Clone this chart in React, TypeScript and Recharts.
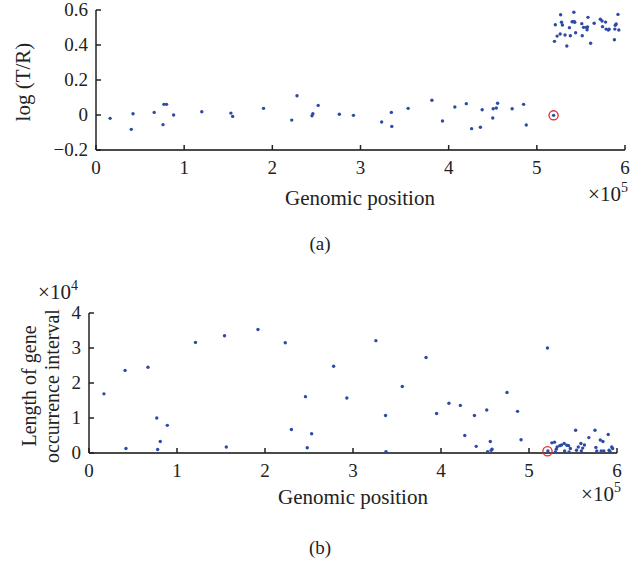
import { ScatterChart, Scatter, XAxis, YAxis } from "recharts";

const FONT = '"Liberation Serif", "Times New Roman", serif';
const DOT = "#2c4aa6";
const RING = "#e8242b";
const INK = "#222";

// shared x ticks (genomic position, shown in units of 1e5)
const xTicks = [0, 100000, 200000, 300000, 400000, 500000, 600000];
const ratioTicks = [-0.2, 0, 0.2, 0.4, 0.6];
const intervalTicks = [0, 10000, 20000, 30000, 40000];

// (a) log(T/R) per gene
const topPositions = [
  16000, 40000, 42000, 66000, 76000, 77000, 80000, 88000, 120000, 153000,
  155000, 190000, 222000, 228000, 245000, 246000, 252000, 276000, 292000, 324000,
  335000, 335500, 354000, 381000, 393000, 407000, 420000, 426000, 436000, 438000,
  450000, 450500, 454000, 455500, 472000, 485000, 488000, 519000,
  527000, 542000, 521000, 528000, 529000, 540000, 542500, 537000, 551000, 553000,
  556000, 557000, 558000, 565000, 572000, 574000, 574500, 578000, 578500, 581000,
  582000, 589000, 590000, 588500, 592000, 593000, 588000, 526500, 523000, 520000,
  532000, 538000, 544000, 551500, 534000, 561000, 543000, 557500,
];
const topLogRatio = [
  -0.019, -0.082, 0.007, 0.015, -0.055, 0.061, 0.061, 0.0, 0.019, 0.011,
  -0.008, 0.038, -0.029, 0.11, -0.004, 0.007, 0.055, 0.004, -0.002, -0.04,
  0.015, -0.065, 0.038, 0.084, -0.034, 0.046, 0.065, -0.078, -0.07, 0.03,
  -0.017, 0.036, 0.04, 0.067, 0.036, 0.061, -0.057, -0.002,
  0.573, 0.587, 0.516, 0.53, 0.514, 0.533, 0.533, 0.499, 0.522, 0.501,
  0.501, 0.487, 0.558, 0.524, 0.547, 0.537, 0.505, 0.531, 0.491, 0.486,
  0.49, 0.513, 0.52, 0.491, 0.575, 0.486, 0.43, 0.463, 0.451, 0.421,
  0.457, 0.453, 0.47, 0.453, 0.394, 0.41, 0.53, 0.503,
];
const topMarked = [{ pos: 519000, value: -0.002 }];

// (b) length of gene occurrence interval
const bottomPositions = [
  17000, 41000, 42000, 67000, 77000, 81000, 78000, 89000, 121000, 154000,
  156000, 192000, 223000, 230000, 246000, 248000, 253000, 278000, 293000,
  326000, 337000, 337500, 356000, 383000, 395000, 409000, 422000, 427000, 438000,
  440000, 452000, 456000, 453000, 457000, 458000, 475000, 487000, 491000, 521000,
  521500, 526000, 529000, 531000, 532000, 535000, 537000, 540000, 543000, 545000,
  547000, 540500, 545500, 530000, 553000, 554000, 556000, 559000, 559500, 561000,
  563000, 568000, 575000, 576000, 577000, 581000, 584000, 582000, 585000, 590000,
  591000, 594000, 595000, 592000,
];
const bottomIntervals = [
  16900, 23600, 1300, 24500, 10000, 3300, 1000, 7900, 31600, 33500,
  1700, 35300, 31500, 6700, 16100, 1500, 5500, 24800, 15700,
  32100, 10700, 400, 19000, 27300, 11300, 14200, 13600, 5000, 10700,
  1900, 12300, 3300, 400, 800, 1100, 17300, 11900, 3800, 30000,
  600, 2900, 3100, 1100, 1700, 2100, 2300, 2700, 2200, 2100,
  1300, 600, 300, 300, 6500, 800, 1700, 2700, 600, 1400,
  2300, 4400, 6500, 1600, 600, 3700, 3300, 600, 600, 5300,
  800, 1700, 1300, 400,
];
const bottomMarked = [{ pos: 521000, value: 500 }];

const topData = topPositions.map((pos, i) => ({ pos, value: topLogRatio[i] }));
const bottomData = bottomPositions.map((pos, i) => ({ pos, value: bottomIntervals[i] }));

const fmtRatio = (v: number) => (v < 0 ? `\u2212${Math.abs(v)}` : `${v}`);

// ticks drawn inward, labels outside
const BottomTick = ({ x, y, payload }: any) => (
  <g>
    <line x1={x} x2={x} y1={y} y2={y - 5} stroke={INK} strokeWidth={1.5} />
    <text x={x} y={y + 24} textAnchor="middle" fontSize={19} fontFamily={FONT} fill={INK}>
      {payload.value / 100000}
    </text>
  </g>
);
const TopTick = ({ x, y }: any) => (
  <line x1={x} x2={x} y1={y} y2={y + 5} stroke={INK} strokeWidth={1.5} />
);
const makeLeftTick = (fmt: (v: number) => string) => ({ x, y, payload }: any) => (
  <g>
    <line x1={x} x2={x + 5} y1={y} y2={y} stroke={INK} strokeWidth={1.5} />
    <text x={x - 8} y={y + 6} textAnchor="end" fontSize={19} fontFamily={FONT} fill={INK}>
      {fmt(payload.value)}
    </text>
  </g>
);
const RightTick = ({ x, y }: any) => (
  <line x1={x} x2={x - 5} y1={y} y2={y} stroke={INK} strokeWidth={1.5} />
);

const RatioTick = makeLeftTick(fmtRatio);
const IntervalTick = makeLeftTick((v) => `${v / 10000}`);

const dotShape = (p: any) => <circle cx={p.cx} cy={p.cy} r={1.7} fill={DOT} />;
const ringShape = (p: any) => (
  <circle cx={p.cx} cy={p.cy} r={4.6} fill="none" stroke={RING} strokeWidth={1.3} />
);

const frame = { stroke: INK, strokeWidth: 1.5 };
const baseLine = { stroke: "#4a4a4a", strokeWidth: 2 };

const abs = (left: number, top: number, extra: any = {}) => ({
  position: "absolute" as const,
  left,
  top,
  transform: "translate(-50%, -50%)",
  whiteSpace: "nowrap" as const,
  ...extra,
});

const Times10 = ({ exp }: { exp: number }) => (
  <span>
    ×10<span style={{ fontSize: 14, position: "relative", top: -9 }}>{exp}</span>
  </span>
);

const Panel = ({ data, marked, domain, ticks, yWidth, right, top, height, tick }: any) => (
  <ScatterChart width={644} height={height} margin={{ top, right, left: 0, bottom: 0 }}>
    <XAxis
      dataKey="pos"
      type="number"
      domain={[0, 600000]}
      ticks={xTicks}
      interval={0}
      height={65}
      tickSize={0}
      tickMargin={0}
      axisLine={baseLine}
      tickLine={false}
      tick={<BottomTick />}
    />
    <XAxis
      xAxisId="top"
      orientation="top"
      type="number"
      domain={[0, 600000]}
      ticks={xTicks.slice(1, -1)}
      interval={0}
      height={0}
      tickSize={0}
      tickMargin={0}
      axisLine={frame}
      tickLine={false}
      tick={<TopTick />}
    />
    <YAxis
      dataKey="value"
      type="number"
      domain={domain}
      ticks={ticks}
      interval={0}
      width={yWidth}
      tickSize={0}
      tickMargin={0}
      axisLine={frame}
      tickLine={false}
      tick={tick}
    />
    <YAxis
      yAxisId="right"
      orientation="right"
      type="number"
      domain={domain}
      ticks={ticks.slice(1, -1)}
      interval={0}
      width={0}
      tickSize={0}
      tickMargin={0}
      axisLine={frame}
      tickLine={false}
      tick={<RightTick />}
    />
    <Scatter data={data} shape={dotShape} isAnimationActive={false} />
    <Scatter data={marked} shape={ringShape} isAnimationActive={false} />
  </ScatterChart>
);

export default function App() {
  return (
    <div
      style={{
        position: "absolute",
        left: 0,
        top: 0,
        width: 644,
        height: 563,
        background: "#fff",
        fontFamily: FONT,
        color: INK,
        fontSize: 21,
        overflow: "hidden",
      }}
    >
      {/* (a) */}
      <div style={{ position: "absolute", left: 0, top: 0 }}>
        <Panel
          data={topData}
          marked={topMarked}
          domain={[-0.2, 0.6]}
          ticks={ratioTicks}
          yWidth={96}
          right={19}
          top={10}
          height={215}
          tick={<RatioTick />}
        />
      </div>
      <div style={abs(23, 82, { transform: "translate(-50%, -50%) rotate(-90deg)" })}>log (T/R)</div>
      <div style={abs(360, 198)}>Genomic position</div>
      <div style={abs(608, 194)}>
        <Times10 exp={5} />
      </div>
      <div style={abs(320, 244, { fontSize: 19 })}>(a)</div>

      {/* (b) */}
      <div style={{ position: "absolute", left: 0, top: 300 }}>
        <Panel
          data={bottomData}
          marked={bottomMarked}
          domain={[0, 40000]}
          ticks={intervalTicks}
          yWidth={89}
          right={27}
          top={13}
          height={218}
          tick={<IntervalTick />}
        />
      </div>
      <div
        style={abs(41, 386, {
          transform: "translate(-50%, -50%) rotate(-90deg)",
          textAlign: "center",
          lineHeight: "23px",
          fontSize: 20,
        })}
      >
        Length of gene
        <br />
        occurrence interval
      </div>
      <div style={abs(58, 292)}>
        <Times10 exp={4} />
      </div>
      <div style={abs(353, 497)}>Genomic position</div>
      <div style={abs(601, 494)}>
        <Times10 exp={5} />
      </div>
      <div style={abs(320, 548, { fontSize: 19 })}>(b)</div>
    </div>
  );
}
